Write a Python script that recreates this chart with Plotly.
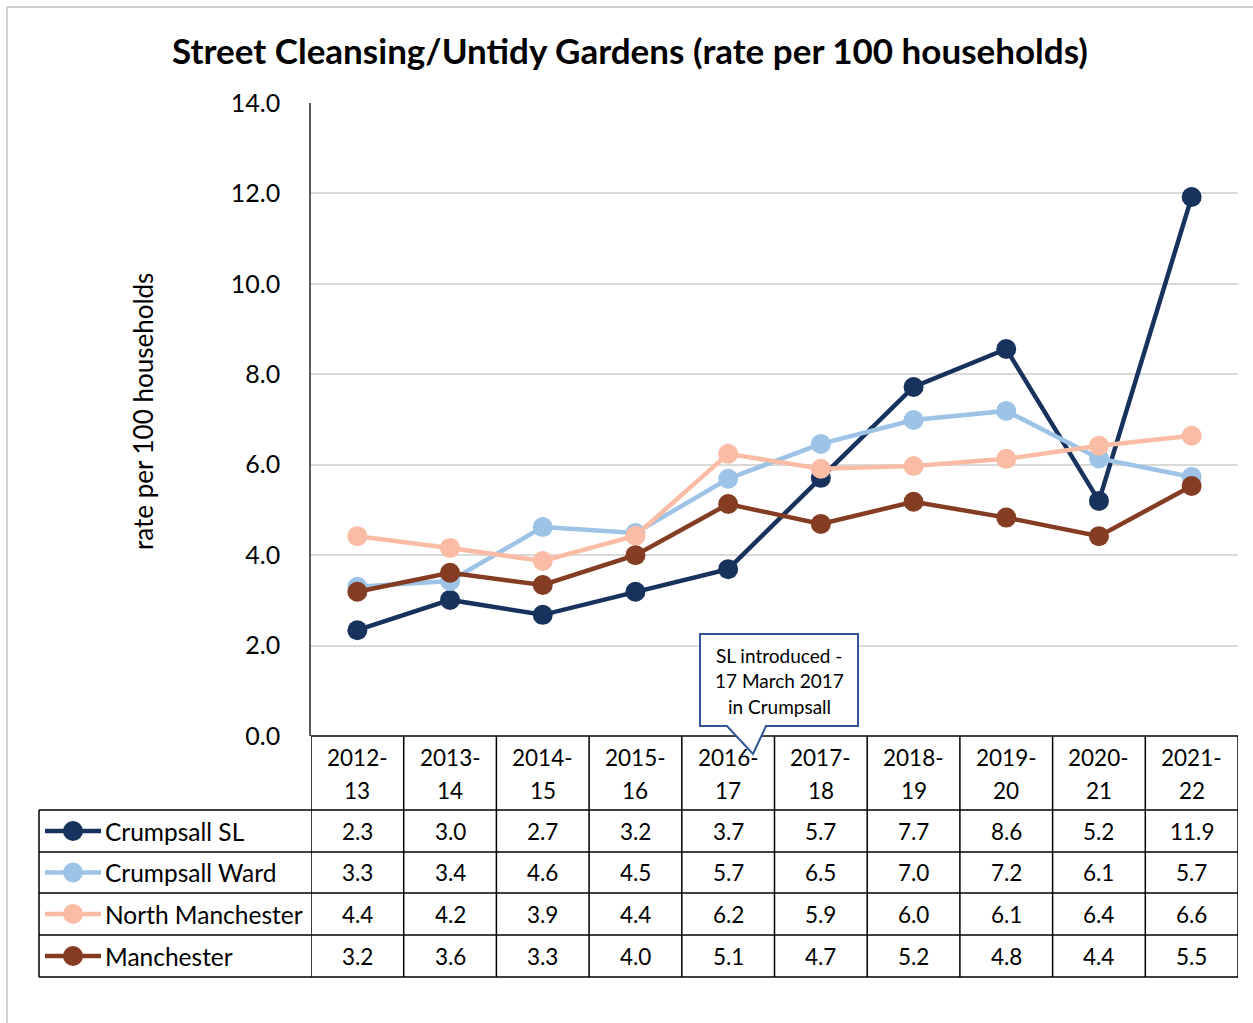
import plotly.graph_objects as go

# ---------------- data ----------------
years_top = ["2012-", "2013-", "2014-", "2015-", "2016-", "2017-", "2018-", "2019-", "2020-", "2021-"]
years_bottom = ["13", "14", "15", "16", "17", "18", "19", "20", "21", "22"]
categories = [a + b for a, b in zip(years_top, years_bottom)]

series_names = ["Crumpsall SL", "Crumpsall Ward", "North Manchester", "Manchester"]
crumpsall_sl = [2.34, 3.01, 2.68, 3.19, 3.69, 5.71, 7.72, 8.56, 5.20, 11.92]
crumpsall_ward = [3.30, 3.43, 4.62, 4.49, 5.69, 6.46, 6.99, 7.19, 6.14, 5.73]
north_manchester = [4.42, 4.16, 3.87, 4.43, 6.24, 5.91, 5.97, 6.13, 6.42, 6.64]
manchester = [3.19, 3.61, 3.34, 4.00, 5.13, 4.69, 5.18, 4.83, 4.42, 5.53]
series_values = [crumpsall_sl, crumpsall_ward, north_manchester, manchester]
colors = ["#17325c", "#9dc3e6", "#fbbca6", "#843c22"]

y_ticks = [0, 2, 4, 6, 8, 10, 12, 14]

# ---------------- layout geometry (reference pixel space) ----------------
W, H = 1253, 1023
L, R, T, B = 311, 1238, 103, 736
PW, PH = R - L, B - T
FONT = "Lato, 'Open Sans', sans-serif"

def xp(px):
    return (px - L) / PW

def yp(py):
    return (B - py) / PH

fig = go.Figure()
xs = list(range(len(categories)))
for name, vals, c in zip(series_names, series_values, colors):
    fig.add_trace(go.Scatter(
        x=xs, y=vals, name=name, mode="lines+markers",
        line=dict(color=c, width=4.5),
        marker=dict(color=c, size=20),
        cliponaxis=False,
    ))

shapes = []
annotations = []

# outer chart border (top & left visible)
shapes.append(dict(type="line", xref="paper", yref="paper", x0=xp(7), x1=xp(1260), y0=yp(7), y1=yp(7),
                   line=dict(color="#bfbfbf", width=1.5)))
shapes.append(dict(type="line", xref="paper", yref="paper", x0=xp(7), x1=xp(7), y0=yp(7), y1=yp(1030),
                   line=dict(color="#bfbfbf", width=1.5)))

# table geometry
row_edges = [810, 852, 893, 935, 977]
table_left = 39
tc = "#000000"
lw = 1.5
n = len(categories)
NUM = 22.5
NAME = 24.5

for py in row_edges:
    shapes.append(dict(type="line", xref="paper", yref="paper", x0=xp(table_left), x1=1,
                       y0=yp(py), y1=yp(py), line=dict(color=tc, width=lw)))
shapes.append(dict(type="line", xref="paper", yref="paper", x0=0, x1=1, y0=0, y1=0,
                   line=dict(color=tc, width=lw)))
for i in range(n + 1):
    shapes.append(dict(type="line", xref="x", yref="paper", x0=i - 0.5, x1=i - 0.5,
                       y0=0, y1=yp(row_edges[-1]), line=dict(color=tc, width=lw)))
shapes.append(dict(type="line", xref="paper", yref="paper", x0=xp(table_left), x1=xp(table_left),
                   y0=yp(row_edges[0]), y1=yp(row_edges[-1]), line=dict(color=tc, width=lw)))

for i in range(n):
    annotations.append(dict(x=i, xref="x", y=yp(757), yref="paper", text=years_top[i], showarrow=False,
                            font=dict(size=NUM, color="#000"), xanchor="center", yanchor="middle"))
    annotations.append(dict(x=i, xref="x", y=yp(790), yref="paper", text=years_bottom[i], showarrow=False,
                            font=dict(size=NUM, color="#000"), xanchor="center", yanchor="middle"))

for r, (name, vals, c) in enumerate(zip(series_names, series_values, colors)):
    cy = (row_edges[r] + row_edges[r + 1]) / 2
    for i, v in enumerate(vals):
        annotations.append(dict(x=i, xref="x", y=yp(cy), yref="paper", text=f"{v:.1f}", showarrow=False,
                                font=dict(size=NUM, color="#000"), xanchor="center", yanchor="middle"))
    shapes.append(dict(type="line", xref="paper", yref="paper", x0=xp(45), x1=xp(101), y0=yp(cy), y1=yp(cy),
                       line=dict(color=c, width=4.5)))
    shapes.append(dict(type="circle", xref="paper", yref="paper", x0=xp(63), x1=xp(83),
                       y0=yp(cy - 10), y1=yp(cy + 10), fillcolor=c, line=dict(color=c, width=0)))
    annotations.append(dict(x=xp(103), xref="paper", y=yp(cy), yref="paper", text=name, showarrow=False,
                            font=dict(size=NAME, color="#000"), xanchor="left", yanchor="middle"))

# callout
pts = [(700, 634), (858, 634), (858, 726), (766, 726), (753, 754), (727, 726), (700, 726)]
path = "M " + " L ".join(f"{xp(a)},{yp(b)}" for a, b in pts) + " Z"
shapes.append(dict(type="path", xref="paper", yref="paper", path=path, fillcolor="white",
                   line=dict(color="#2f5597", width=2), layer="above"))
for txt, py in [("SL introduced -", 655), ("17 March 2017", 680), ("in Crumpsall", 706)]:
    annotations.append(dict(x=xp(779), xref="paper", y=yp(py), yref="paper", text=txt, showarrow=False,
                            font=dict(size=19, color="#000"), xanchor="center", yanchor="middle"))

# y-axis title
annotations.append(dict(x=xp(143), xref="paper", y=yp(412), yref="paper", text="rate per 100 households",
                        showarrow=False, textangle=-90, font=dict(size=26, color="#000"),
                        xanchor="center", yanchor="middle"))

fig.update_layout(
    width=W, height=H,
    margin=dict(l=L, r=W - R, t=T, b=H - B),
    paper_bgcolor="white", plot_bgcolor="white",
    showlegend=False,
    font=dict(family=FONT, color="#000"),
    title=dict(text="<b>Street Cleansing/Untidy Gardens (rate per 100 households)</b>",
               x=630 / W, xanchor="center", y=1 - 52 / H, yanchor="middle",
               font=dict(size=35, color="#000", family=FONT)),
    shapes=shapes,
    annotations=annotations,
)
fig.update_xaxes(range=[-0.5, n - 0.5], showticklabels=False, showgrid=False, zeroline=False,
                 showline=False, ticks="", fixedrange=True)
fig.update_yaxes(range=[0, 14], tickvals=y_ticks, ticktext=[f"{t:.1f}" for t in y_ticks],
                 showgrid=True, gridcolor="#d9d9d9", gridwidth=1.5, zeroline=False,
                 showline=True, linecolor="#595959", linewidth=1.5,
                 ticks="", ticklabelstandoff=24, tickfont=dict(size=25, color="#000"))

fig.write_html("out.html", config={"displayModeBar": False},
               post_script="document.body.style.margin='0';document.body.style.padding='0';")
